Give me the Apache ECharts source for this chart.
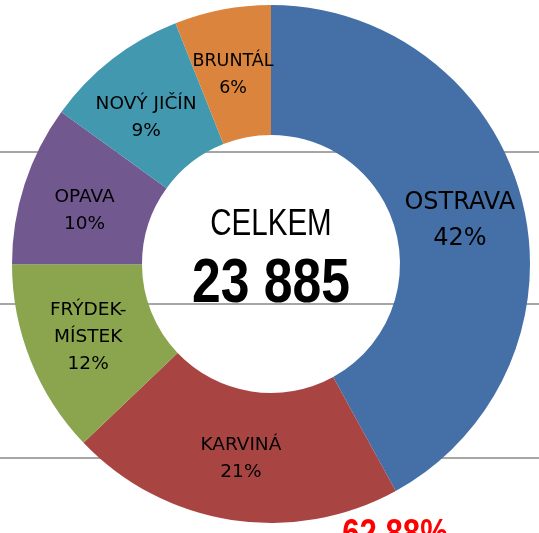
<!DOCTYPE html>
<html>
<head>
<meta charset="utf-8">
<script src="https://cdn.jsdelivr.net/npm/echarts@6/dist/echarts.min.js"></script>
<style>
  html, body { margin: 0; padding: 0; background: #fff; }
  #donut { width: 539px; height: 533px; }
</style>
</head>
<body>
<div id="donut"></div>
<script>
// okresy v pořadí po směru hodinových ručiček od 12 hodin
const names = ['OSTRAVA', 'KARVINÁ', 'FRÝDEK-\nMÍSTEK', 'OPAVA', 'NOVÝ JIČÍN', 'BRUNTÁL']
const values = [10032, 4987, 2890, 2390, 2150, 1436]
const colors = ['#4470A7', '#A84543', '#8AA54D', '#71588F', '#4298AF', '#DB843D']
const centerTitle = 'CELKEM'

const total = values.reduce((a, b) => a + b, 0)
// podíl Ostravy a Karviné dohromady
const topTwo = (values[0] + values[1]) / total * 100

// drobné posuny popisků jako v originále
const labelShift = { 0: [-2, 6], 3: [1, 7], 4: [-4, 9], 5: [-1, 4] }

const chart = echarts.init(document.getElementById('donut'))

const data = []
for (let i = 0; i < names.length; i++) {
  const item = {
    name: names[i],
    value: values[i],
    itemStyle: { color: colors[i] }
  }
  if (i === 0) item.label = { fontSize: 24, lineHeight: 36 }
  // úzká výseč - popisek smí přesahovat
  if (i === 5) item.label = { width: 30, overflow: 'none', fontSize: 17.5 }
  data.push(item)
}

const option = {
  animation: false,
  backgroundColor: '#fff',
  graphic: [
    // šedé vodorovné linky v pozadí
    { type: 'line', z: -10, shape: { x1: 0, y1: 152, x2: 539, y2: 152 }, style: { stroke: '#a6a6a6', lineWidth: 2 } },
    { type: 'line', z: -10, shape: { x1: 0, y1: 304, x2: 539, y2: 304 }, style: { stroke: '#a6a6a6', lineWidth: 2 } },
    { type: 'line', z: -10, shape: { x1: 0, y1: 458, x2: 539, y2: 458 }, style: { stroke: '#a6a6a6', lineWidth: 2 } },
    {
      type: 'text', z: 100, x: 271, y: 225, scaleX: 0.82,
      style: {
        text: centerTitle,
        font: '36px "Liberation Sans", Arial, sans-serif',
        fill: '#000', align: 'center', verticalAlign: 'middle'
      }
    },
    {
      type: 'text', z: 100, x: 271, y: 285, scaleX: 0.82,
      style: {
        text: total.toLocaleString('cs-CZ').replace(/\s/g, ' '),
        font: 'bold 63px "Liberation Sans", Arial, sans-serif',
        fill: '#000', align: 'center', verticalAlign: 'middle'
      }
    },
    {
      type: 'text', z: 100, x: 395, y: 536, scaleX: 0.82,
      style: {
        text: topTwo.toFixed(2).replace('.', ',') + '%',
        font: 'bold 38px "Liberation Sans", Arial, sans-serif',
        fill: '#ff0000', align: 'center', verticalAlign: 'middle'
      }
    }
  ],
  series: [
    {
      type: 'pie',
      center: [271, 264],
      radius: [129, 259],
      startAngle: 90,
      clockwise: true,
      avoidLabelOverlap: false,
      silent: true,
      label: {
        show: true,
        position: 'inside',
        color: '#000',
        fontFamily: '"DejaVu Sans", sans-serif',
        fontSize: 18.5,
        lineHeight: 27,
        align: 'center',
        formatter: function (p) {
          return p.name + '\n' + Math.round(p.percent) + '%'
        }
      },
      labelLine: { show: false },
      labelLayout: function (params) {
        const s = labelShift[params.dataIndex]
        return s ? { dx: s[0], dy: s[1] } : {}
      },
      data: data
    }
  ]
}
chart.setOption(option)
</script>
</body>
</html>
